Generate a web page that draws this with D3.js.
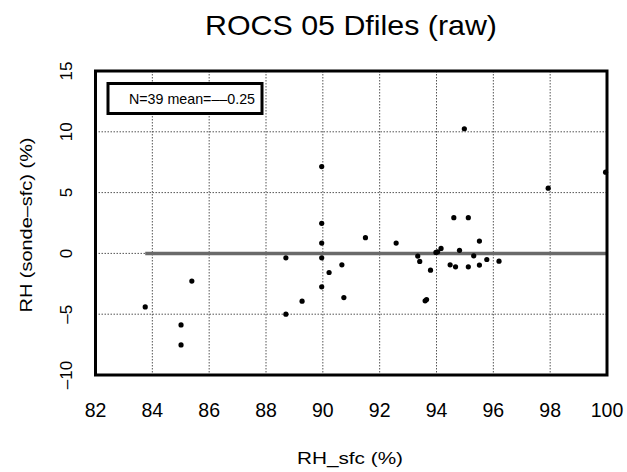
<!DOCTYPE html>
<html><head><meta charset="utf-8">
<script src="https://cdn.jsdelivr.net/npm/d3@7"></script>
<style>body{margin:0;background:#fff}svg{display:block}text{font-family:"Liberation Sans",Arial,Helvetica,sans-serif;fill:#000}</style>
</head><body>
<script>
const titleText = "ROCS 05 Dfiles (raw)";
const xTitle = "RH_sfc (%)";
const yTitle = "RH (sonde\u2013sfc) (%)";
const legendText = "N=39 mean=\u2013\u20130.25";
const xTicks = [82, 84, 86, 88, 90, 92, 94, 96, 98, 100];
const yTicks = [-10, -5, 0, 5, 10, 15];
const rhSfc = [83.75, 85.39, 85.01, 85.01, 88.70, 88.70, 89.27, 89.96, 89.96, 89.96, 89.96, 89.96, 90.22, 90.67, 90.74, 91.50, 92.58, 93.34, 93.41, 93.60, 93.65, 93.79, 93.98, 94.04, 94.16, 94.48, 94.61, 94.67, 94.81, 94.98, 95.12, 95.12, 95.31, 95.51, 95.51, 95.77, 96.20, 97.93, 99.95];
const rhDiff = [-4.40, -2.28, -5.88, -7.53, -0.36, -5.00, -3.93, 7.14, 2.47, 0.85, -0.36, -2.75, -1.57, -0.94, -3.63, 1.29, 0.85, -0.22, -0.66, -3.90, -3.80, -1.38, 0.08, 0.13, 0.41, -0.94, 2.94, -1.10, 0.25, 10.25, 2.94, -1.10, -0.20, 1.01, -0.96, -0.50, -0.64, 5.36, 6.68];

const W = 627, H = 472;
const L = 95.5, R = 607, T = 71, B = 375;
const svg = d3.select("body").append("svg").attr("width", W).attr("height", H);
const x = d3.scaleLinear().domain([82, 100]).range([L, R]);
const y = d3.scaleLinear().domain([-10, 15]).range([B, T]);

// grid
svg.append("g").selectAll("line").data(xTicks.slice(1, -1)).join("line")
  .attr("x1", d => x(d)).attr("x2", d => x(d)).attr("y1", T).attr("y2", B)
  .attr("stroke", "#555").attr("stroke-width", 1).attr("stroke-dasharray", "1.5,1.5");
svg.append("g").selectAll("line").data(yTicks.slice(1, -1)).join("line")
  .attr("x1", L).attr("x2", R).attr("y1", d => y(d)).attr("y2", d => y(d))
  .attr("stroke", "#555").attr("stroke-width", 1).attr("stroke-dasharray", "1.5,1.5");

// zero line over data range
const ext = d3.extent(rhSfc);
svg.append("line").attr("x1", x(ext[0])).attr("x2", R).attr("y1", y(0)).attr("y2", y(0))
  .attr("stroke", "#6a6a6a").attr("stroke-width", 3.5);

// points
svg.append("g").selectAll("circle").data(rhSfc.map((v, i) => [v, rhDiff[i]])).join("circle")
  .attr("cx", d => x(d[0])).attr("cy", d => y(d[1])).attr("r", 2.6).attr("fill", "#000");

// frame
svg.append("rect").attr("x", L).attr("y", T).attr("width", R - L).attr("height", B - T)
  .attr("fill", "none").attr("stroke", "#000").attr("stroke-width", 3);

// legend
svg.append("rect").attr("x", 108).attr("y", 83.5).attr("width", 154).attr("height", 30)
  .attr("fill", "#fff").attr("stroke", "#000").attr("stroke-width", 3);
svg.append("text").attr("x", 255).attr("y", 103.5).attr("text-anchor", "end")
  .attr("font-size", 14.5).attr("textLength", 126).attr("lengthAdjust", "spacingAndGlyphs").text(legendText);

// x tick labels
svg.append("g").selectAll("text").data(xTicks).join("text")
  .attr("x", d => x(d)).attr("y", 417).attr("text-anchor", "middle").attr("font-size", 19.5)
  .text(d => d);
// y tick labels (rotated)
svg.append("g").selectAll("text").data(yTicks).join("text")
  .attr("transform", d => `translate(72,${y(d)}) rotate(-90)`).attr("text-anchor", "middle").attr("font-size", 17)
  .text(d => d < 0 ? "\u2013" + Math.abs(d) : d);

// titles
svg.append("text").attr("x", 351).attr("y", 35).attr("text-anchor", "middle").attr("font-size", 28)
  .attr("textLength", 292).attr("lengthAdjust", "spacingAndGlyphs").text(titleText);
svg.append("text").attr("x", 350).attr("y", 464).attr("text-anchor", "middle").attr("font-size", 17)
  .attr("textLength", 106).attr("lengthAdjust", "spacingAndGlyphs").text(xTitle);
svg.append("text").attr("transform", "translate(32,225) rotate(-90)").attr("text-anchor", "middle").attr("font-size", 17)
  .attr("textLength", 175).attr("lengthAdjust", "spacingAndGlyphs").text(yTitle);
</script>
</body></html>
